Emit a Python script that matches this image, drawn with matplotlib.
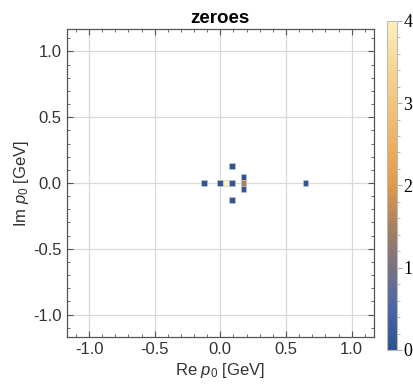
import matplotlib.pyplot as plt
from matplotlib.colors import LinearSegmentedColormap, Normalize
from matplotlib.cm import ScalarMappable
from matplotlib.ticker import MultipleLocator

# Histogram cells of the zeroes in the complex p0 plane
re_p0 = [-0.127, 0.0, 0.046, 0.091, 0.091, 0.091, 0.177, 0.177, 0.177, 0.648]
im_p0 = [0.0, 0.0, 0.0, 0.0, 0.129, -0.129, 0.045, 0.0, -0.045, 0.0]
cell_value = [0.1, 0.1, 4.0, 0.1, 0.1, 0.1, 0.1, 1.5, 0.1, 0.1]
cell_size = 0.044

cbar_ticks = [0, 1, 2, 3, 4]

colors = ["#2b5290", "#4a66a8", "#7a7184", "#a8805e", "#df9a4c",
          "#edb062", "#f3c47e", "#f8d898", "#fff0bc"]
cmap = LinearSegmentedColormap.from_list("zeroes", colors)
norm = Normalize(vmin=0, vmax=4)

plt.rcParams['font.family'] = ['Liberation Sans', 'DejaVu Sans']
plt.rcParams['mathtext.fontset'] = 'custom'
plt.rcParams['mathtext.it'] = 'Liberation Sans:italic'
plt.rcParams['mathtext.rm'] = 'Liberation Sans'

fig = plt.figure(figsize=(4.13, 3.85), dpi=100)
ax = fig.add_axes([0.1615, 0.1247, 0.744, 0.800])

for x, y, v in zip(re_p0, im_p0, cell_value):
    ax.bar(x, cell_size, bottom=y - cell_size / 2, width=cell_size,
           color=cmap(norm(v)), edgecolor="#c8c8c8", linewidth=0.4, zorder=3)

ax.set_xlim(-1.17, 1.17)
ax.set_ylim(-1.17, 1.17)
ax.xaxis.set_major_locator(MultipleLocator(0.5))
ax.yaxis.set_major_locator(MultipleLocator(0.5))
ax.xaxis.set_minor_locator(MultipleLocator(0.1))
ax.yaxis.set_minor_locator(MultipleLocator(0.1))
ax.xaxis.set_major_formatter(lambda v, p: f"{v:.1f}".replace("-0.0", "0.0"))
ax.yaxis.set_major_formatter(lambda v, p: f"{v:.1f}".replace("-0.0", "0.0"))
ax.grid(True, which="major", color="#d9d9d9", linewidth=0.9, zorder=0)
ax.set_axisbelow(True)
ax.tick_params(which="both", direction="in", top=True, right=True,
               color="#555555", labelsize=12, labelcolor="#333333")
ax.tick_params(which="major", length=4, width=0.8)
ax.tick_params(which="minor", length=2, width=0.6)
for s in ax.spines.values():
    s.set_color("#555555")
    s.set_linewidth(0.9)

ax.set_xlabel("Re $p_0$ [GeV]", fontsize=12, color="#333333", labelpad=3)
ax.set_ylabel("Im $p_0$ [GeV]", fontsize=12, color="#333333", labelpad=2)
ax.set_title("zeroes", fontsize=13.5, fontweight="bold", pad=4)

cax = fig.add_axes([0.937, 0.091, 0.024, 0.855])
cb = fig.colorbar(ScalarMappable(norm=norm, cmap=cmap), cax=cax)
cb.set_ticks(cbar_ticks)
cb.ax.yaxis.set_minor_locator(MultipleLocator(0.2))
cb.outline.set_edgecolor("#bbbbbb")
cb.outline.set_linewidth(0.8)
cb.ax.tick_params(which="both", color="#999999", labelsize=13, pad=1)
cb.ax.tick_params(which="major", length=3.5, width=0.6)
cb.ax.tick_params(which="minor", length=2, width=0.5)
for t in cb.ax.get_yticklabels():
    t.set_fontfamily("Liberation Serif")

fig.savefig("out.png", dpi=100)
